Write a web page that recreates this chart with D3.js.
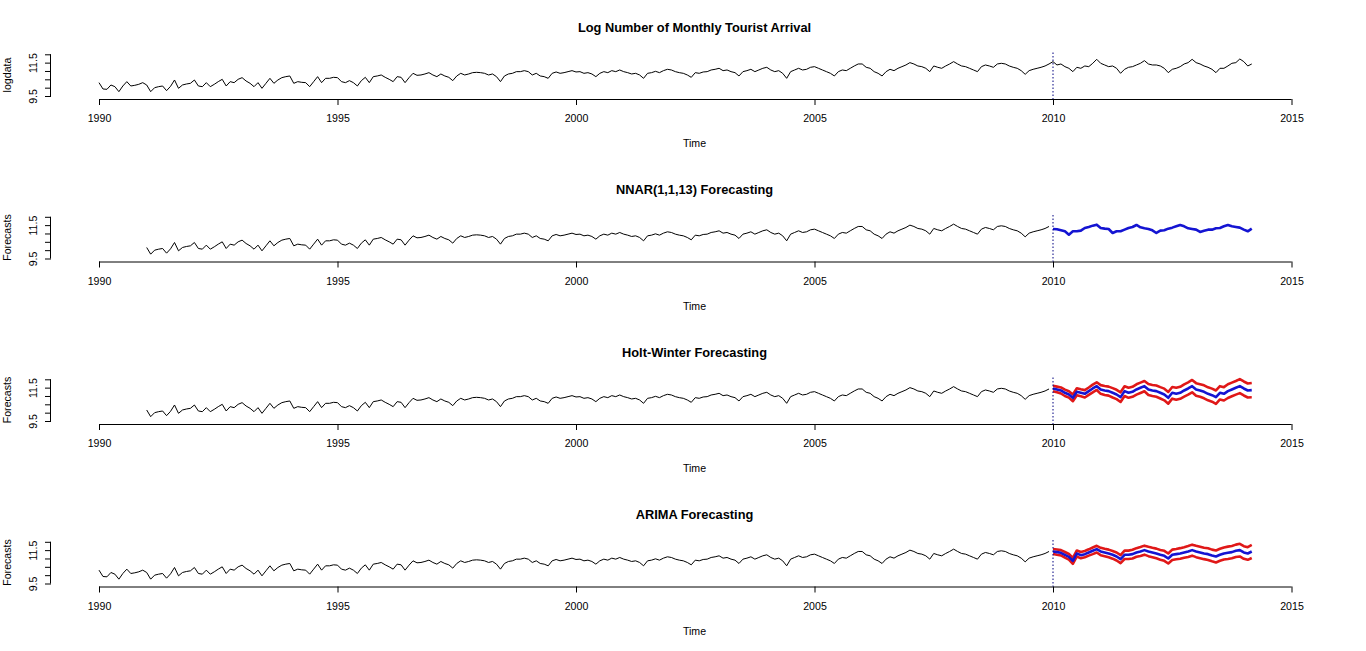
<!DOCTYPE html>
<html>
<head>
<meta charset="utf-8">
<title>Log Number of Monthly Tourist Arrival</title>
<script src="https://d3js.org/d3.v7.min.js"></script>
<style>
    body { margin: 0; background: #fff; }
    svg text { font-family: "Liberation Sans", Arial, sans-serif; fill: #000; }
</style>
</head>
<body>
<div id="chart"></div>
<script>
// monthly log arrivals, Jan 1990 .. Mar 2014
var logdata = [
    10.30, 9.92, 9.90, 10.16, 10.06, 9.76, 10.10, 10.36, 10.10, 10.14, 10.20, 10.30,
    10.16, 9.76, 10.00, 10.06, 10.10, 9.82, 10.08, 10.46, 9.96, 10.16, 10.22, 10.26,
    10.46, 10.10, 10.06, 10.30, 10.06, 10.20, 10.36, 10.50, 10.10, 10.36, 10.30, 10.50,
    10.60, 10.40, 10.26, 10.06, 10.30, 9.96, 10.26, 10.56, 10.26, 10.46, 10.60, 10.66,
    10.70, 10.26, 10.36, 10.32, 10.30, 10.06, 10.36, 10.66, 10.30, 10.56, 10.56, 10.62,
    10.60, 10.36, 10.30, 10.42, 10.30, 10.10, 10.42, 10.62, 10.30, 10.66, 10.70, 10.76,
    10.62, 10.50, 10.36, 10.66, 10.62, 10.30, 10.60, 10.86, 10.74, 10.76, 10.82, 10.90,
    10.76, 10.66, 10.82, 10.70, 10.62, 10.42, 10.70, 10.86, 10.76, 10.82, 10.90, 10.92,
    10.90, 10.86, 10.76, 10.82, 10.66, 10.36, 10.70, 10.82, 10.86, 10.96, 10.96, 11.02,
    10.96, 10.76, 10.86, 10.70, 10.66, 10.56, 10.86, 10.94, 10.86, 10.90, 10.96, 11.02,
    10.94, 10.96, 10.86, 10.90, 10.82, 10.66, 10.86, 10.96, 10.90, 11.02, 10.96, 11.06,
    10.96, 10.90, 10.82, 10.86, 10.76, 10.56, 10.86, 10.90, 10.98, 10.90, 11.02, 11.10,
    11.06, 10.96, 10.90, 10.86, 10.76, 10.62, 10.90, 10.86, 10.94, 10.96, 11.06, 11.10,
    11.16, 11.02, 11.06, 10.96, 10.90, 10.70, 10.96, 11.02, 11.10, 10.96, 11.06, 11.16,
    11.22, 11.06, 10.96, 11.02, 10.86, 10.56, 10.96, 11.06, 11.16, 11.06, 11.10, 11.22,
    11.26, 11.16, 11.06, 10.96, 10.86, 10.70, 10.96, 11.06, 11.02, 11.16, 11.30, 11.42,
    11.42, 11.22, 11.16, 10.96, 10.86, 10.70, 10.96, 11.10, 11.02, 11.16, 11.26, 11.36,
    11.50, 11.42, 11.30, 11.26, 11.16, 10.96, 11.30, 11.22, 11.16, 11.30, 11.42, 11.56,
    11.42, 11.30, 11.26, 11.16, 11.06, 10.96, 11.26, 11.36, 11.30, 11.22, 11.42, 11.46,
    11.42, 11.30, 11.22, 11.16, 11.02, 10.80, 11.02, 11.10, 11.16, 11.22, 11.30, 11.42,
    11.56, 11.36, 11.42, 11.26, 11.16, 10.96, 11.22, 11.16, 11.30, 11.26, 11.46, 11.70,
    11.46, 11.36, 11.26, 11.30, 11.16, 10.86, 11.10, 11.22, 11.26, 11.36, 11.46, 11.62,
    11.42, 11.36, 11.36, 11.30, 11.16, 10.90, 11.10, 11.16, 11.26, 11.42, 11.50, 11.70,
    11.50, 11.42, 11.30, 11.22, 11.10, 10.90, 11.16, 11.16, 11.30, 11.46, 11.50, 11.72,
    11.56, 11.30, 11.42
];

// forecasts, Jan 2010 .. Mar 2014
var nnarFc = [
    11.27, 11.25, 11.19, 11.13, 10.93, 11.13, 11.13, 11.17, 11.33, 11.39, 11.47, 11.53,
    11.33, 11.29, 11.27, 11.03, 11.13, 11.13, 11.23, 11.33, 11.39, 11.51, 11.37, 11.31,
    11.27, 11.19, 11.03, 11.17, 11.19, 11.29, 11.35, 11.43, 11.51, 11.43, 11.31, 11.27,
    11.23, 11.09, 11.17, 11.23, 11.23, 11.31, 11.33, 11.43, 11.51, 11.43, 11.39, 11.35,
    11.23, 11.13, 11.29
];

var hwFc = [
    11.45, 11.39, 11.33, 11.19, 11.09, 10.89, 11.25, 11.19, 11.13, 11.29, 11.45, 11.59,
    11.39, 11.33, 11.29, 11.19, 11.09, 10.93, 11.29, 11.19, 11.25, 11.39, 11.49, 11.59,
    11.39, 11.33, 11.29, 11.19, 11.09, 10.89, 11.19, 11.13, 11.19, 11.33, 11.45, 11.59,
    11.39, 11.33, 11.25, 11.13, 11.05, 10.93, 11.19, 11.13, 11.29, 11.39, 11.49, 11.59,
    11.45, 11.33, 11.35
];
var hwHi = [
    11.61, 11.56, 11.51, 11.38, 11.28, 11.09, 11.46, 11.40, 11.35, 11.51, 11.68, 11.82,
    11.65, 11.60, 11.56, 11.47, 11.37, 11.22, 11.58, 11.49, 11.55, 11.70, 11.80, 11.90,
    11.72, 11.66, 11.63, 11.53, 11.44, 11.24, 11.54, 11.49, 11.55, 11.70, 11.82, 11.96,
    11.77, 11.71, 11.64, 11.52, 11.44, 11.33, 11.59, 11.53, 11.70, 11.80, 11.90, 12.01,
    11.87, 11.75, 11.78
];
var hwLo = [
    11.29, 11.22, 11.15, 11.00, 10.90, 10.69, 11.04, 10.98, 10.91, 11.07, 11.22, 11.36,
    11.13, 11.06, 11.02, 10.91, 10.81, 10.64, 11.00, 10.89, 10.95, 11.08, 11.18, 11.28,
    11.06, 11.00, 10.95, 10.85, 10.74, 10.54, 10.84, 10.77, 10.83, 10.96, 11.08, 11.22,
    11.01, 10.95, 10.86, 10.74, 10.66, 10.53, 10.79, 10.73, 10.88, 10.98, 11.08, 11.17,
    11.03, 10.91, 10.92
];

var arimaFc = [
    11.42, 11.38, 11.34, 11.22, 11.10, 10.86, 11.30, 11.20, 11.26, 11.36, 11.46, 11.56,
    11.42, 11.36, 11.30, 11.22, 11.12, 10.96, 11.22, 11.22, 11.26, 11.36, 11.42, 11.50,
    11.42, 11.36, 11.30, 11.22, 11.16, 11.00, 11.22, 11.26, 11.30, 11.36, 11.42, 11.50,
    11.42, 11.36, 11.30, 11.26, 11.18, 11.12, 11.22, 11.30, 11.34, 11.38, 11.46, 11.50,
    11.36, 11.30, 11.42
];
var arimaHi = [
    11.57, 11.54, 11.50, 11.39, 11.27, 11.04, 11.48, 11.39, 11.45, 11.55, 11.66, 11.76,
    11.64, 11.58, 11.53, 11.45, 11.36, 11.20, 11.47, 11.47, 11.52, 11.62, 11.69, 11.77,
    11.70, 11.64, 11.59, 11.51, 11.46, 11.30, 11.53, 11.57, 11.62, 11.68, 11.75, 11.83,
    11.76, 11.70, 11.64, 11.61, 11.53, 11.48, 11.58, 11.66, 11.71, 11.75, 11.83, 11.88,
    11.74, 11.68, 11.81
];
var arimaLo = [
    11.27, 11.22, 11.18, 11.05, 10.93, 10.68, 11.12, 11.01, 11.07, 11.17, 11.26, 11.36,
    11.20, 11.14, 11.07, 10.99, 10.88, 10.72, 10.97, 10.97, 11.00, 11.10, 11.15, 11.23,
    11.14, 11.08, 11.01, 10.93, 10.86, 10.70, 10.91, 10.95, 10.98, 11.04, 11.09, 11.17,
    11.08, 11.02, 10.96, 10.91, 10.83, 10.76, 10.86, 10.94, 10.97, 11.01, 11.09, 11.12,
    10.98, 10.92, 11.03
];

var titles = ["Log Number of Monthly Tourist Arrival", "NNAR(1,1,13) Forecasting",
              "Holt-Winter Forecasting", "ARIMA Forecasting"];
var yTitles = ["logdata", "Forecasts", "Forecasts", "Forecasts"];
var xTicks = [1990, 1995, 2000, 2005, 2010, 2015];
var yTicks = [9.5, 10, 10.5, 11, 11.5, 12];
var yTickLabels = ["9.5", "", "", "", "11.5", ""];

var W = 1366, H = 651;
var panelH = 162.5;
var plotLeft = 51;
var blue = "#1414d2", red = "#e01818", navy = "#000080";

var svg = d3.select("#chart").append("svg")
    .attr("width", W)
    .attr("height", H);

var x = d3.scaleLinear().domain([1990, 2015]).range([99, 1291.5]);
var yBase = d3.scaleLinear().domain([9.5, 12]).range([96, 54.3]);

function series(arr, t0) {
    return arr.map(function (v, i) { return { t: t0 + i / 12, v: v }; });
}

// what goes into each panel
var panels = [
    { lines: [{ d: series(logdata, 1990), c: "#000", w: 1 }] },
    { lines: [{ d: series(logdata.slice(12, 240), 1991), c: "#000", w: 1 },
              { d: series(nnarFc, 2010), c: blue, w: 2.6 }] },
    { lines: [{ d: series(logdata.slice(12, 240), 1991), c: "#000", w: 1 },
              { d: series(hwHi, 2010), c: red, w: 2.6 },
              { d: series(hwLo, 2010), c: red, w: 2.6 },
              { d: series(hwFc, 2010), c: blue, w: 2.6 }] },
    { lines: [{ d: series(logdata.slice(0, 240), 1990), c: "#000", w: 1 },
              { d: series(arimaHi, 2010), c: red, w: 2.6 },
              { d: series(arimaLo, 2010), c: red, w: 2.6 },
              { d: series(arimaFc, 2010), c: blue, w: 2.6 }] }
];

panels.forEach(function (p, k) {
    var g = svg.append("g").attr("transform", "translate(0," + (k * panelH) + ")");
    var y = yBase.copy();

    var line = d3.line()
        .x(function (d) { return x(d.t); })
        .y(function (d) { return y(d.v); });

    // x axis
    var xAxis = g.append("g")
        .attr("transform", "translate(0,99)")
        .call(d3.axisBottom(x).tickValues(xTicks).tickFormat(d3.format("d")).tickSizeOuter(0).tickSize(6));
    xAxis.select(".domain").attr("stroke", "#000").attr("d", "M" + x(1990) + ",0.5H" + x(2015));
    xAxis.selectAll("text").attr("font-size", "10.6px").attr("dy", null).attr("y", 23.3)
        .style("font-family", "'Liberation Sans', Arial, sans-serif");

    // y axis
    var yAxis = g.append("g")
        .attr("transform", "translate(" + plotLeft + ",0)")
        .call(d3.axisLeft(y).tickValues(yTicks).tickFormat(function (d, i) { return yTickLabels[i]; })
            .tickSizeOuter(0).tickSize(6));
    yAxis.select(".domain").attr("d", "M-0.5," + y(9.5) + "V" + y(12));
    yAxis.selectAll("text")
        .attr("font-size", "10.6px")
        .attr("text-anchor", "middle")
        .attr("dy", null).attr("x", null).attr("y", null)
        .attr("transform", "translate(-14,0) rotate(-90)")
        .style("font-family", "'Liberation Sans', Arial, sans-serif");

    // labels
    g.append("text")
        .attr("x", 694.5).attr("y", 31.5)
        .attr("text-anchor", "middle")
        .attr("font-size", "12.8px")
        .attr("font-weight", "bold")
        .text(titles[k]);

    g.append("text")
        .attr("x", 694.5).attr("y", 147)
        .attr("text-anchor", "middle")
        .attr("font-size", "10.6px")
        .text("Time");

    g.append("text")
        .attr("transform", "translate(11,75) rotate(-90)")
        .attr("text-anchor", "middle")
        .attr("font-size", "10.6px")
        .text(yTitles[k]);

    // the lines
    p.lines.forEach(function (s) {
        g.append("path")
            .datum(s.d)
            .attr("fill", "none")
            .attr("stroke", s.c)
            .attr("stroke-width", s.w)
            .attr("stroke-linejoin", "round")
            .attr("d", line);
    });

    // start of the test period
    g.append("line")
        .attr("x1", x(2010)).attr("x2", x(2010))
        .attr("y1", 52.5).attr("y2", 99)
        .attr("stroke", navy)
        .attr("stroke-width", 1)
        .attr("stroke-dasharray", "1.5,2");
});
</script>
</body>
</html>
